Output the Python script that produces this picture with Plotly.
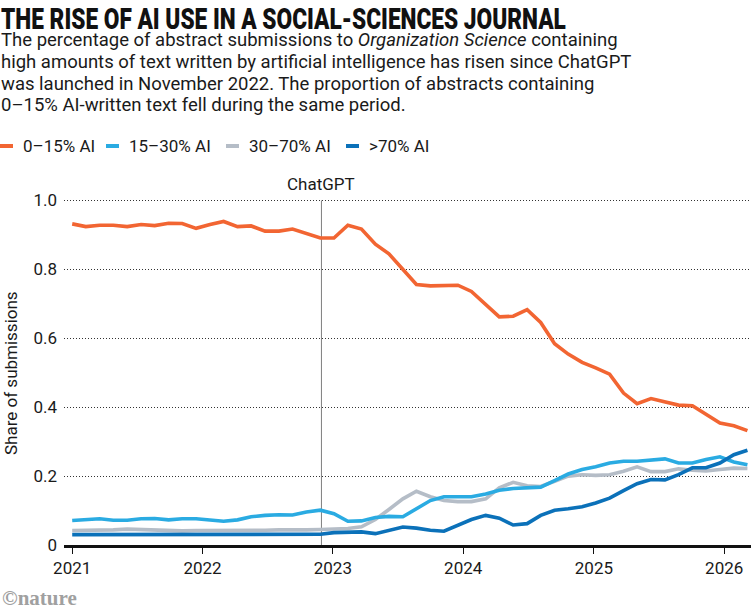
import plotly.graph_objects as go

# ---------------- data ----------------
dates = [
    "2021-01-01", "2021-02-08", "2021-03-19", "2021-04-26", "2021-06-04",
    "2021-07-13", "2021-08-20", "2021-09-28", "2021-11-05", "2021-12-14",
    "2022-01-22", "2022-03-01", "2022-04-09", "2022-05-17", "2022-06-25",
    "2022-08-03", "2022-09-10", "2022-10-19", "2022-11-27", "2023-01-04",
    "2023-02-12", "2023-03-22", "2023-04-30", "2023-06-07", "2023-07-16",
    "2023-08-23", "2023-10-01", "2023-11-08", "2023-12-17", "2024-01-24",
    "2024-03-04", "2024-04-11", "2024-05-20", "2024-06-28", "2024-08-05",
    "2024-09-13", "2024-10-21", "2024-11-29", "2025-01-06", "2025-02-14",
    "2025-03-25", "2025-05-02", "2025-06-10", "2025-07-19", "2025-08-26",
    "2025-10-04", "2025-11-11", "2025-12-20", "2026-01-28", "2026-03-07",
]

ai_0_15 = [
    0.932, 0.924, 0.928, 0.928, 0.924, 0.930, 0.927, 0.934, 0.933, 0.919,
    0.930, 0.939, 0.924, 0.926, 0.911, 0.911, 0.917, 0.904, 0.891, 0.891,
    0.928, 0.917, 0.873, 0.845, 0.799, 0.756, 0.752, 0.754, 0.754, 0.736,
    0.699, 0.662, 0.664, 0.683, 0.646, 0.584, 0.554, 0.530, 0.514, 0.496,
    0.441, 0.410, 0.425, 0.414, 0.406, 0.404, 0.378, 0.354, 0.346, 0.332,
]

ai_15_30 = [
    0.071, 0.074, 0.076, 0.072, 0.072, 0.076, 0.077, 0.073, 0.076, 0.076,
    0.072, 0.069, 0.073, 0.082, 0.086, 0.088, 0.087, 0.096, 0.101, 0.091,
    0.069, 0.070, 0.080, 0.083, 0.082, 0.106, 0.129, 0.140, 0.140, 0.140,
    0.148, 0.159, 0.164, 0.165, 0.168, 0.187, 0.206, 0.219, 0.227, 0.238,
    0.243, 0.243, 0.246, 0.250, 0.238, 0.238, 0.248, 0.256, 0.241, 0.233,
]

ai_30_70 = [
    0.042, 0.042, 0.042, 0.044, 0.046, 0.045, 0.042, 0.041, 0.041, 0.042,
    0.042, 0.041, 0.041, 0.042, 0.043, 0.044, 0.043, 0.044, 0.045, 0.047,
    0.048, 0.053, 0.074, 0.103, 0.134, 0.156, 0.140, 0.129, 0.126, 0.126,
    0.134, 0.166, 0.182, 0.172, 0.170, 0.185, 0.200, 0.204, 0.202, 0.204,
    0.214, 0.227, 0.213, 0.213, 0.221, 0.217, 0.215, 0.219, 0.223, 0.222,
]

ai_70_plus = [
    0.030, 0.030, 0.030, 0.030, 0.030, 0.030, 0.030, 0.030, 0.030, 0.030,
    0.030, 0.030, 0.030, 0.030, 0.030, 0.030, 0.030, 0.030, 0.031, 0.036,
    0.038, 0.038, 0.033, 0.043, 0.052, 0.049, 0.043, 0.040, 0.057, 0.074,
    0.086, 0.078, 0.058, 0.062, 0.086, 0.101, 0.105, 0.111, 0.122, 0.136,
    0.158, 0.178, 0.190, 0.189, 0.204, 0.224, 0.224, 0.238, 0.262, 0.275,
]

series_names = ["0–15% AI", "15–30% AI", "30–70% AI", ">70% AI"]
series_values = [ai_0_15, ai_15_30, ai_30_70, ai_70_plus]
series_colors = ["#f26532", "#2aabe2", "#b5bdc7", "#0b71b9"]

year_ticks = ["2021-01-01", "2022-01-01", "2023-01-01", "2024-01-01", "2025-01-01", "2026-01-01"]
year_labels = ["2021", "2022", "2023", "2024", "2025", "2026"]
y_ticks = [0, 0.2, 0.4, 0.6, 0.8, 1.0]
y_labels = ["0", "0.2", "0.4", "0.6", "0.8", "1.0"]

chatgpt_date = "2022-11-30"

title_text = "THE RISE OF AI USE IN A SOCIAL-SCIENCES JOURNAL"
subtitle_lines = [
    "The percentage of abstract submissions to <i>Organization Science</i> containing",
    "high amounts of text written by artificial intelligence has risen since ChatGPT",
    "was launched in November 2022. The proportion of abstracts containing",
    "0–15% AI-written text fell during the same period.",
]

# ---------------- layout helpers ----------------
W, H = 751, 616
ML, MR, MT, MB = 64, 0, 197, 71
PW, PH = W - ML - MR, H - MT - MB


def px_x(px):
    return (px - ML) / PW


def px_y(py):
    return (H - MB - py) / PH


BODY_FONT = "Roboto, 'Open Sans', sans-serif"
TXT = "#1a1a1a"
TITLE_WIDTH_PX = 565

fig = go.Figure()

# draw order: gray, light blue, dark blue, orange
order = [2, 1, 3, 0]
for i in order:
    fig.add_trace(go.Scatter(
        x=dates, y=series_values[i], name=series_names[i], mode="lines",
        line=dict(color=series_colors[i], width=3.6),
        showlegend=False,
    ))

shapes = []
annotations = []

# ChatGPT marker line
shapes.append(dict(type="line", xref="x", yref="y", x0=chatgpt_date, x1=chatgpt_date,
                   y0=0, y1=1.0, line=dict(color="#7f7f7f", width=1), layer="below"))
annotations.append(dict(x=chatgpt_date, y=1.0, xref="x", yref="y", text="ChatGPT",
                        showarrow=False, xanchor="center", yanchor="bottom", yshift=4,
                        font=dict(family=BODY_FONT, size=17, color=TXT)))

# title
annotations.append(dict(x=px_x(0), y=px_y(0), xref="paper", yref="paper", text=title_text,
                        showarrow=False, xanchor="left", yanchor="top", borderpad=0,
                        font=dict(family="Roboto, sans-serif", size=30, color="#111111", weight=900)))
# subtitle, one line each for exact line spacing
sub_centres = [40, 62, 84, 105]
for line, cy in zip(subtitle_lines, sub_centres):
    annotations.append(dict(x=px_x(0), y=px_y(cy), xref="paper", yref="paper", text=line,
                            showarrow=False, xanchor="left", yanchor="middle", align="left",
                            borderpad=0,
                            font=dict(family=BODY_FONT, size=18.5, color=TXT)))

# legend (swatch + label)
legend_pos = [(0, 21), (106, 127), (226, 247), (346, 367)]
for (sx, tx), name, col in zip(legend_pos, series_names, series_colors):
    shapes.append(dict(type="line", xref="paper", yref="paper", x0=px_x(sx), x1=px_x(sx + 13),
                       y0=px_y(146), y1=px_y(146), line=dict(color=col, width=4)))
    annotations.append(dict(x=px_x(tx), y=px_y(146), xref="paper", yref="paper", text=name,
                            showarrow=False, xanchor="left", yanchor="middle",
                            font=dict(family=BODY_FONT, size=17, color=TXT)))

# y-axis title
annotations.append(dict(x=px_x(11), y=px_y(373), xref="paper", yref="paper", text="Share of submissions",
                        showarrow=False, textangle=-90, xanchor="center", yanchor="middle",
                        font=dict(family=BODY_FONT, size=17, color=TXT)))

# nature credit
annotations.append(dict(x=px_x(0), y=px_y(598), xref="paper", yref="paper", text="<b>©nature</b>",
                        showarrow=False, xanchor="left", yanchor="middle",
                        font=dict(family="'Liberation Serif', serif", size=21, color="#a0a0a0")))

fig.update_layout(
    width=W, height=H,
    margin=dict(l=ML, r=MR, t=MT, b=MB, pad=0),
    paper_bgcolor="white", plot_bgcolor="white",
    shapes=shapes, annotations=annotations,
    showlegend=False,
    xaxis=dict(
        type="date", range=["2020-12-09", "2026-03-17"],
        tickvals=year_ticks, ticktext=year_labels,
        showgrid=False, zeroline=False,
        showline=True, linecolor="#111111", linewidth=3,
        ticks="outside", ticklen=6, tickwidth=1, tickcolor="#111111",
        tickfont=dict(family=BODY_FONT, size=17, color=TXT),
        fixedrange=True,
    ),
    yaxis=dict(
        range=[0, 1.01], tickvals=y_ticks, ticktext=y_labels,
        showgrid=True, gridcolor="#333333", gridwidth=1, griddash="1px,2px",
        zeroline=False, showline=False, ticks="",
        ticklabelstandoff=6,
        tickfont=dict(family=BODY_FONT, size=17, color=TXT),
        fixedrange=True,
    ),
)

# condense the headline horizontally (the original uses a condensed display face)
post_js = """
(function(){
  var gd = document.getElementsByClassName('plotly-graph-div')[0];
  function fit(){
    var texts = gd.querySelectorAll('text.annotation-text');
    texts.forEach(function(t){
      if (t.textContent.indexOf('THE RISE') === 0) {
        t.removeAttribute('transform');
        var bb = t.getBBox();
        var s = %d / bb.width;
        var x0 = bb.x;
        t.setAttribute('transform', 'translate(' + x0 + ',0) scale(' + s + ',1) translate(' + (-x0) + ',0)');
      }
    });
  }
  fit();
  if (gd.on) { gd.on('plotly_afterplot', fit); }
})();
""" % TITLE_WIDTH_PX

fig.write_html("out.html", post_script=post_js)
